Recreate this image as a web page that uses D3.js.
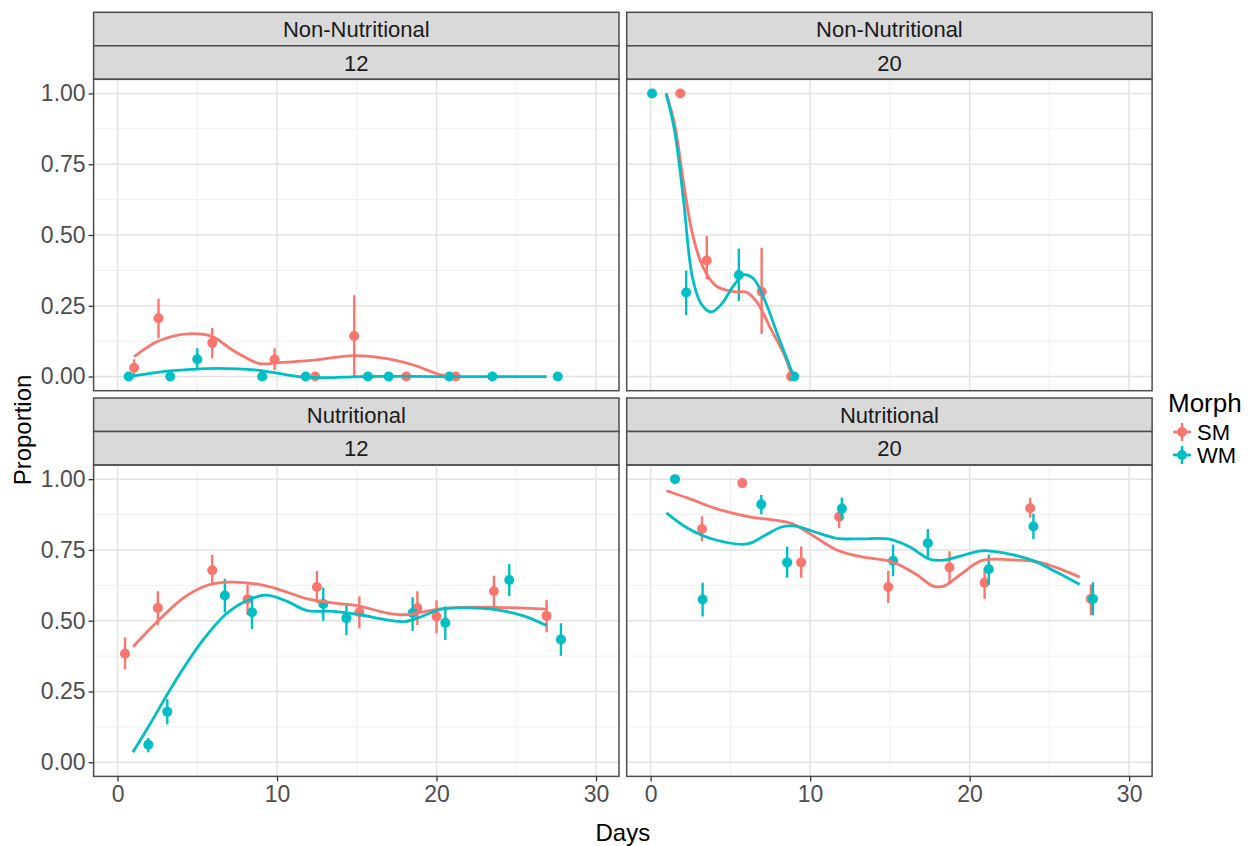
<!DOCTYPE html>
<html>
<head>
<meta charset="utf-8">
<script src="https://cdn.jsdelivr.net/npm/d3@7"></script>
<style>
  body { margin: 0; background: #fff; }
  svg { font-family: "Liberation Sans", Arial, sans-serif; }
</style>
</head>
<body>
<div id="chart"></div>
<script>
// facet labels, in panel order (row by row)
const dietLabels = ["Non-Nutritional", "Non-Nutritional", "Nutritional", "Nutritional"];
const sizeLabels = ["12", "20", "12", "20"];
const morphs = ["SM", "WM"];
const xTicks = [0, 10, 20, 30];
const yTicks = [0, 0.25, 0.5, 0.75, 1];

// observed proportions: [day, proportion, lower, upper]
const smNN12 = [[1.04,0.031,0.0,0.061],[2.57,0.206,0.136,0.275],[5.94,0.119,0.064,0.172],[9.85,0.060,0.023,0.10],
  [12.4,0,0,0],[14.84,0.143,0,0.287],[18.1,0,0,0],[21.2,0,0,0]];
const wmNN12 = [[0.7,0,0,0],[3.3,0,0,0],[5.0,0.061,0.029,0.10],[9.07,0,0,0],[11.8,0,0,0],[15.7,0,0,0],
  [17.0,0,0,0],[20.8,0,0,0],[23.5,0,0,0],[27.6,0,0,0]];
const smNN20 = [[1.86,1,1,1],[3.52,0.41,0.344,0.497],[6.96,0.30,0.151,0.454],[8.8,0,0,0]];
const wmNN20 = [[0.09,1,1,1],[2.23,0.297,0.217,0.374],[5.53,0.359,0.267,0.452],[9.0,0,0,0]];
const smN12 = [[0.47,0.383,0.328,0.441],[2.53,0.545,0.485,0.604],[5.94,0.678,0.626,0.733],[8.15,0.576,0.52,0.628],
  [12.5,0.619,0.563,0.676],[15.16,0.530,0.473,0.586],[18.8,0.545,0.485,0.604],[20.0,0.515,0.456,0.572],
  [23.6,0.604,0.548,0.659],[26.9,0.517,0.459,0.574]];
const wmN12 = [[1.93,0.062,0.035,0.086],[3.12,0.178,0.134,0.223],[6.73,0.589,0.529,0.648],[8.43,0.53,0.471,0.588],
  [12.9,0.559,0.5,0.617],[14.35,0.509,0.449,0.563],[18.5,0.527,0.464,0.583],[20.55,0.493,0.432,0.551],
  [24.56,0.644,0.587,0.70],[27.8,0.434,0.376,0.491]];
const smN20 = [[5.75,0.986,0.986,0.986],[3.22,0.824,0.781,0.869],[9.44,0.706,0.652,0.762],[11.82,0.867,0.827,0.902],
  [14.9,0.619,0.562,0.676],[18.74,0.688,0.636,0.745],[20.94,0.634,0.577,0.686],[23.8,0.897,0.864,0.934],
  [27.6,0.577,0.519,0.628]];
const wmN20 = [[1.53,1,1,1],[3.26,0.575,0.515,0.634],[6.94,0.911,0.876,0.944],[8.56,0.706,0.652,0.762],
  [11.99,0.896,0.857,0.935],[15.2,0.712,0.657,0.769],[17.38,0.774,0.723,0.824],[21.2,0.682,0.627,0.733],
  [24.0,0.833,0.789,0.878],[27.73,0.577,0.519,0.636]];

// smoothed fits: [day, proportion]
const smNN12Fit = [[1.04,0.070],[2.5,0.124],[4.4,0.151],[5.9,0.142],[7.2,0.094],[8.9,0.046],[10.1,0.049],
  [12.3,0.058],[14.8,0.074],[16.9,0.063],[18.6,0.040],[20.3,0.005],[21.2,0]];
const wmNN12Fit = [[0.76,0],[2.5,0.015],[4.6,0.025],[6.3,0.029],[8.7,0.023],[10.1,0.011],[11.4,0],
  [13.1,-0.004],[15.2,0],[20,0],[26.9,0]];
const smNN20Fit = [[0.97,1],[1.5,0.893],[2.05,0.69],[2.6,0.51],[3.24,0.392],[4.1,0.32],[5.2,0.30],[6.05,0.297],
  [6.7,0.26],[7.56,0.166],[8.43,0.07],[8.86,0]];
const wmNN20Fit = [[0.97,1],[1.5,0.869],[2.05,0.63],[2.6,0.356],[3.13,0.261],[3.78,0.228],[4.43,0.255],
  [5.19,0.32],[5.84,0.359],[6.48,0.344],[7.13,0.273],[8.0,0.142],[8.97,0]];
const smN12Fit = [[0.98,0.408],[2.5,0.497],[4.2,0.583],[5.69,0.626],[6.96,0.636],[8.87,0.628],[10.15,0.61],
  [11.85,0.578],[13.5,0.563],[15.2,0.551],[16.9,0.527],[18.0,0.521],[19.07,0.530],[20.1,0.541],[21.6,0.547],
  [23.7,0.547],[26.9,0.541]];
const wmN12Fit = [[0.96,0.035],[2.08,0.139],[3.57,0.282],[5.27,0.425],[6.75,0.521],[8.03,0.569],[9.3,0.59],
  [10.6,0.569],[11.85,0.536],[13.5,0.533],[15.2,0.521],[16.9,0.503],[18.0,0.497],[19.07,0.515],[20.3,0.541],
  [22.0,0.545],[23.7,0.539],[25.4,0.518],[26.9,0.483]];
const smN20Fit = [[0.99,0.959],[2.38,0.932],[4.1,0.896],[6.27,0.866],[7.56,0.857],[8.86,0.843],[10.16,0.801],
  [11.67,0.75],[13.18,0.726],[15.13,0.708],[16.64,0.664],[17.72,0.622],[18.37,0.622],[19.45,0.664],
  [20.75,0.712],[22.9,0.714],[24.4,0.706],[25.7,0.682],[26.9,0.654]];
const wmN20Fit = [[0.99,0.881],[2.38,0.825],[4.1,0.785],[6.05,0.771],[7.13,0.80],[8.2,0.831],[9.08,0.834],
  [10.16,0.816],[11.67,0.791],[13.18,0.789],[14.9,0.789],[16.2,0.762],[17.5,0.717],[18.37,0.714],
  [19.45,0.729],[20.75,0.747],[22.26,0.738],[23.99,0.712],[25.5,0.67],[26.9,0.628]];

const points = [[smNN12, wmNN12], [smNN20, wmNN20], [smN12, wmN12], [smN20, wmN20]];
const fits = [[smNN12Fit, wmNN12Fit], [smNN20Fit, wmNN20Fit], [smN12Fit, wmN12Fit], [smN20Fit, wmN20Fit]];

const width = 1259, height = 846;
const colX = [93.6, 626.7], rowY = [12.3, 398];
const panelW = 525.4, panelH = 311.4, stripH = 33.5;

const color = d3.scaleOrdinal().domain(morphs).range(["#F8766D", "#00BFC4"]);

const svg = d3.select("#chart").append("svg")
  .attr("width", width).attr("height", height);

const line = d3.line().curve(d3.curveCatmullRom.alpha(0.5));

dietLabels.forEach((diet, i) => {
  const col = i % 2, row = Math.floor(i / 2);
  const left = colX[col], top = rowY[row];
  const pTop = top + 2 * stripH;

  const x = d3.scaleLinear().domain([-1.5, 31.44]).range([left, left + panelW]);
  const y = d3.scaleLinear().domain([-0.05, 1.05]).range([pTop + panelH, pTop]);

  const g = svg.append("g");

  // strips
  [diet, sizeLabels[i]].forEach((lab, k) => {
    g.append("rect")
      .attr("x", left).attr("y", top + k * stripH)
      .attr("width", panelW).attr("height", stripH)
      .attr("fill", "#d9d9d9").attr("stroke", "#4d4d4d").attr("stroke-width", 1.5);
    g.append("text")
      .attr("x", left + panelW / 2).attr("y", top + k * stripH + stripH / 2 + 8)
      .attr("text-anchor", "middle").attr("font-size", 22).attr("fill", "#1a1a1a")
      .text(lab);
  });

  // grid
  const minorX = [5, 15, 25], minorY = [0.125, 0.375, 0.625, 0.875];
  g.selectAll(".mx").data(minorX).enter().append("line")
    .attr("x1", d => x(d)).attr("x2", d => x(d)).attr("y1", pTop).attr("y2", pTop + panelH)
    .attr("stroke", "#f0f0f0").attr("stroke-width", 1);
  g.selectAll(".my").data(minorY).enter().append("line")
    .attr("y1", d => y(d)).attr("y2", d => y(d)).attr("x1", left).attr("x2", left + panelW)
    .attr("stroke", "#f0f0f0").attr("stroke-width", 1);
  g.selectAll(".gx").data(xTicks).enter().append("line")
    .attr("x1", d => x(d)).attr("x2", d => x(d)).attr("y1", pTop).attr("y2", pTop + panelH)
    .attr("stroke", "#e3e3e3").attr("stroke-width", 1.5);
  g.selectAll(".gy").data(yTicks).enter().append("line")
    .attr("y1", d => y(d)).attr("y2", d => y(d)).attr("x1", left).attr("x2", left + panelW)
    .attr("stroke", "#e3e3e3").attr("stroke-width", 1.5);

  // error bars and points
  points[i].forEach((series, m) => {
    g.selectAll(null).data(series).enter().append("line")
      .attr("x1", d => x(d[0])).attr("x2", d => x(d[0]))
      .attr("y1", d => y(d[2])).attr("y2", d => y(d[3]))
      .attr("stroke", color(morphs[m])).attr("stroke-width", 2.4);
    g.selectAll(null).data(series).enter().append("circle")
      .attr("cx", d => x(d[0])).attr("cy", d => y(d[1])).attr("r", 5)
      .attr("fill", color(morphs[m]));
  });

  // smooth lines
  fits[i].forEach((series, m) => {
    g.append("path")
      .attr("d", line(series.map(d => [x(d[0]), y(d[1])])))
      .attr("fill", "none").attr("stroke", color(morphs[m])).attr("stroke-width", 2.8);
  });

  // panel border
  g.append("rect")
    .attr("x", left).attr("y", pTop).attr("width", panelW).attr("height", panelH)
    .attr("fill", "none").attr("stroke", "#4d4d4d").attr("stroke-width", 1.5);

  // axes
  if (col === 0) {
    const ax = g.append("g").attr("transform", `translate(${left},0)`)
      .call(d3.axisLeft(y).tickValues(yTicks).tickFormat(d3.format(".2f")).tickSize(5).tickPadding(3));
    ax.select(".domain").remove();
    ax.selectAll("line").attr("stroke", "#333").attr("stroke-width", 1.3);
    ax.selectAll("text").attr("font-size", 23).attr("fill", "#4d4d4d")
      .attr("font-family", "Liberation Sans, Arial, sans-serif");
  }
  if (row === 1) {
    const ax = g.append("g").attr("transform", `translate(0,${pTop + panelH})`)
      .call(d3.axisBottom(x).tickValues(xTicks).tickSize(5).tickPadding(4));
    ax.select(".domain").remove();
    ax.selectAll("line").attr("stroke", "#333").attr("stroke-width", 1.3);
    ax.selectAll("text").attr("font-size", 23).attr("fill", "#4d4d4d")
      .attr("font-family", "Liberation Sans, Arial, sans-serif");
  }
});

// axis titles
svg.append("text")
  .attr("x", (colX[0] + colX[1] + panelW) / 2).attr("y", 841)
  .attr("text-anchor", "middle").attr("font-size", 24).attr("fill", "#000")
  .text("Days");

svg.append("text")
  .attr("transform", `translate(31,430) rotate(-90)`)
  .attr("text-anchor", "middle").attr("font-size", 24).attr("fill", "#000")
  .text("Proportion");

// legend
const legend = svg.append("g").attr("transform", "translate(1168,0)");
legend.append("text").attr("x", 0).attr("y", 412)
  .attr("font-size", 26).attr("fill", "#000").text("Morph");
morphs.forEach((m, k) => {
  const cy = 432 + k * 23;
  legend.append("line").attr("x1", 5).attr("x2", 23).attr("y1", cy).attr("y2", cy)
    .attr("stroke", color(m)).attr("stroke-width", 2.8);
  legend.append("line").attr("x1", 14).attr("x2", 14).attr("y1", cy - 9).attr("y2", cy + 9)
    .attr("stroke", color(m)).attr("stroke-width", 2.4);
  legend.append("circle").attr("cx", 14).attr("cy", cy).attr("r", 5).attr("fill", color(m));
  legend.append("text").attr("x", 29).attr("y", cy + 8)
    .attr("font-size", 22).attr("fill", "#000").text(m);
});
</script>
</body>
</html>
